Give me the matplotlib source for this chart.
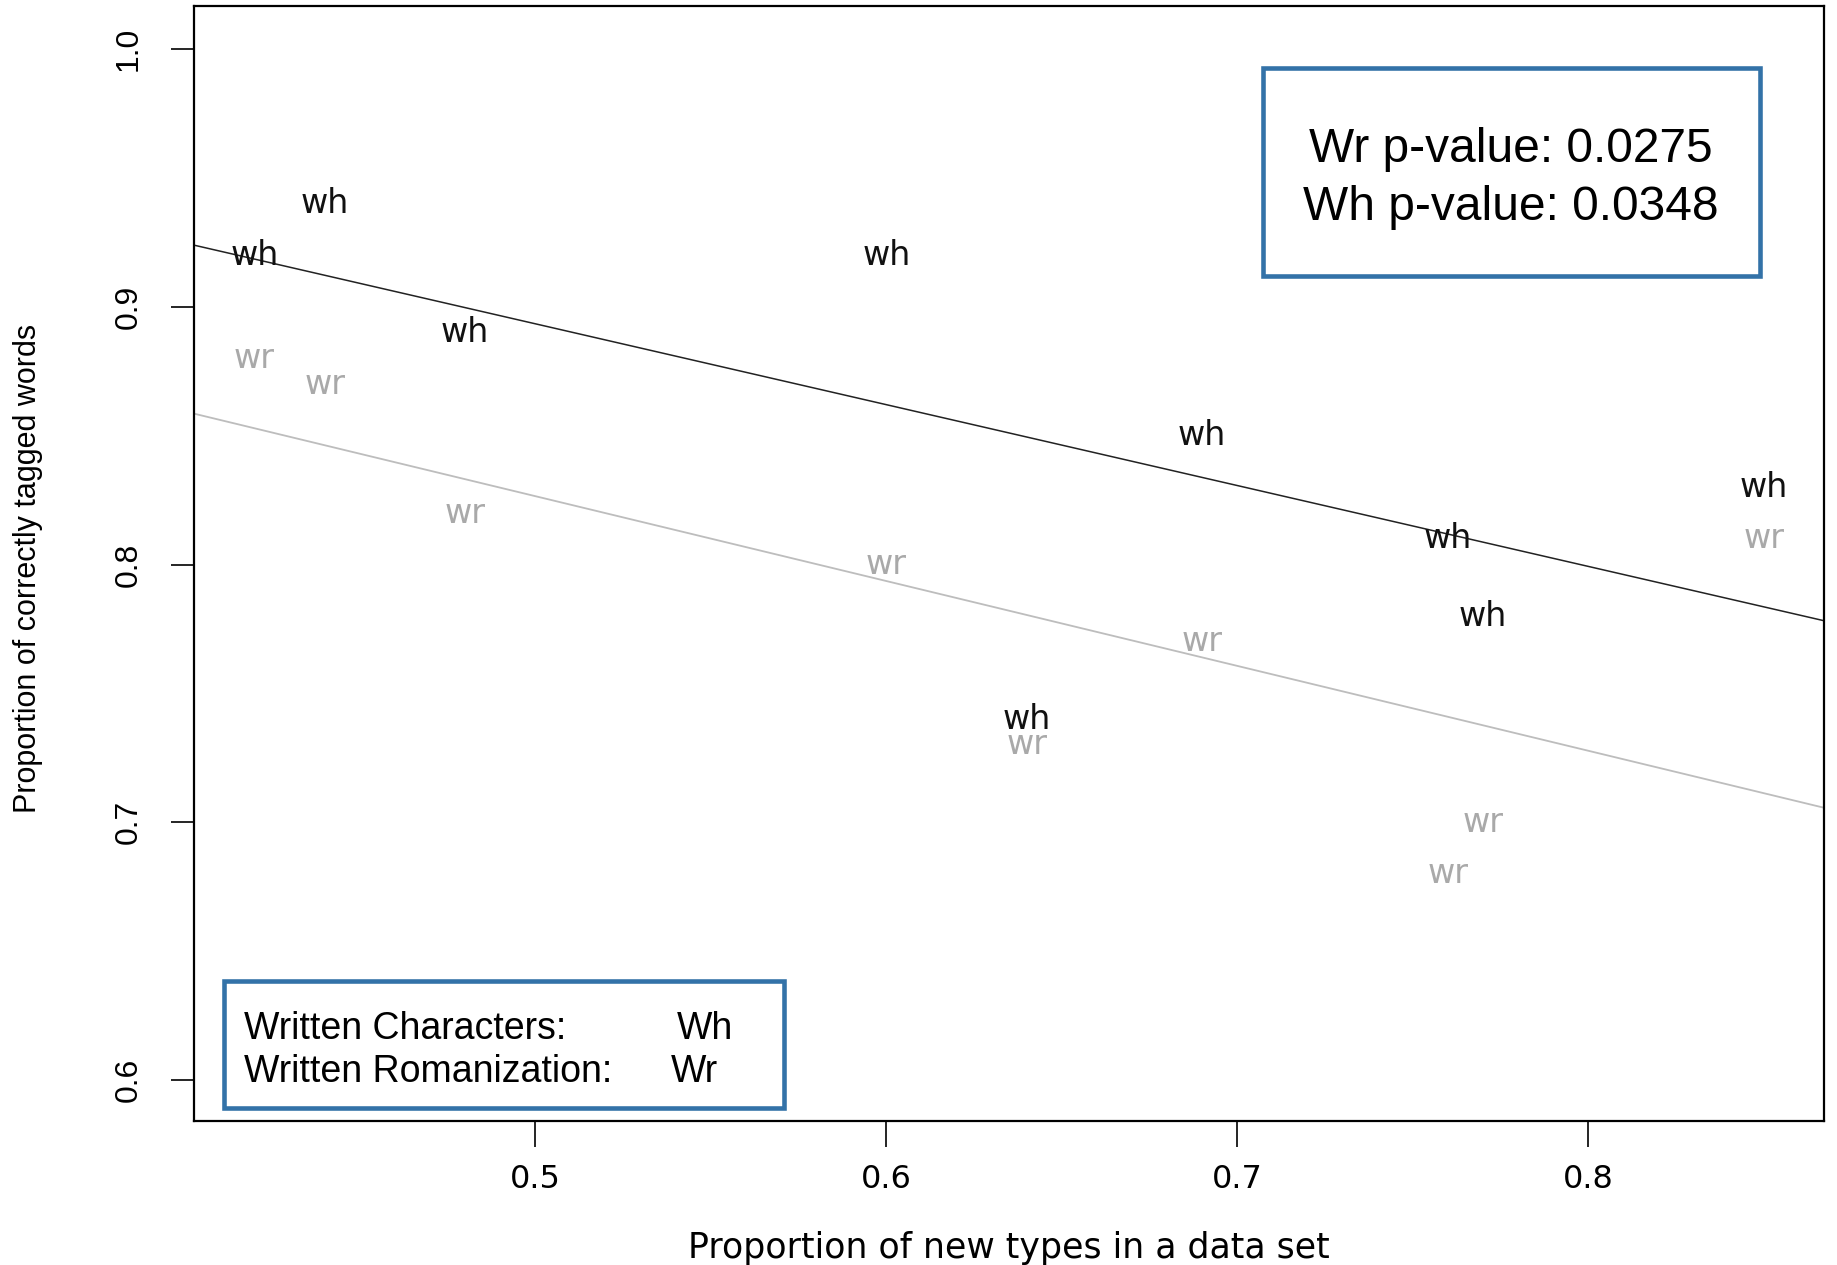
import numpy as np
import matplotlib.pyplot as plt
from matplotlib.patches import Rectangle

plt.rcParams['font.family'] = ['Liberation Sans', 'DejaVu Sans']

# data
x_new_types = [0.42, 0.44, 0.48, 0.60, 0.64, 0.69, 0.76, 0.77, 0.85]
wh_correct = [0.92, 0.94, 0.89, 0.92, 0.74, 0.85, 0.81, 0.78, 0.83]
wr_correct = [0.88, 0.87, 0.82, 0.80, 0.73, 0.77, 0.68, 0.70, 0.81]
x_ticks = [0.5, 0.6, 0.7, 0.8]
y_ticks = [0.6, 0.7, 0.8, 0.9, 1.0]
pvalue_lines = ['Wr p-value: 0.0275', 'Wh p-value: 0.0348']
legend_names = ['Written Characters:', 'Written Romanization:']
legend_codes = ['Wh', 'Wr']

W, H = 1837, 1265
fig = plt.figure(figsize=(W / 100, H / 100), dpi=100)
ax = fig.add_axes([194 / W, 1 - 1121 / H, (1824 - 194) / W, (1121 - 6) / H])

# the R plot looks stretched sideways, a wider face fits it better
wide = 'DejaVu Sans'
wh_col = '#111111'
wr_col = '#a9a9a9'

for x, y in zip(x_new_types, wh_correct):
    ax.text(x, y, 'wh', color=wh_col, fontsize=24, family=wide,
            ha='center', va='center')
for x, y in zip(x_new_types, wr_correct):
    ax.text(x, y, 'wr', color=wr_col, fontsize=24, family=wide,
            ha='center', va='center')

# least squares lines
xs = np.array([0.4, 0.87])
b_wh = np.polyfit(x_new_types, wh_correct, 1)
b_wr = np.polyfit(x_new_types, wr_correct, 1)
ax.plot(xs, np.polyval(b_wh, xs), color='#222222', lw=1.1)
ax.plot(xs, np.polyval(b_wr, xs), color='#bdbdbd', lw=1.3)

ax.set_xlim(0.4028, 0.8671)
ax.set_ylim(0.584, 1.0168)
ax.set_xticks(x_ticks)
ax.set_xticklabels([str(t) for t in x_ticks], family=wide)
ax.set_yticks(y_ticks)
ax.set_yticklabels([str(t) for t in y_ticks], rotation=90, va='center')

for s in ax.spines.values():
    s.set_linewidth(1.6)
ax.tick_params(axis='x', length=19, width=1.2, pad=12, labelsize=23)
ax.tick_params(axis='y', length=16.5, width=1.2, pad=20, labelsize=23)

ax.set_xlabel('Proportion of new types in a data set', fontsize=25,
              family=wide, va='center')
ax.xaxis.set_label_coords(0.5, -0.114)
ax.set_ylabel('Proportion of correctly tagged words', fontsize=22, va='center')
ax.yaxis.set_label_coords(-0.102, 0.496)
ax.set_title('Written words', fontsize=26, fontweight='bold', pad=3)

# boxes drawn on top of the figure
box_col = '#3372a8'
fig.add_artist(Rectangle((1263 / W, 1 - 276 / H), (1760 - 1263) / W, (276 - 68) / H,
                         transform=fig.transFigure, fill=True, facecolor='white',
                         edgecolor=box_col, lw=3.3))
for i, line in enumerate(pvalue_lines):
    fig.text(1511 / W, 1 - (150 + 58 * i) / H, line, fontsize=34.5,
             ha='center', va='center')

fig.add_artist(Rectangle((224 / W, 1 - 1108 / H), (784 - 224) / W, (1108 - 981) / H,
                         transform=fig.transFigure, fill=True, facecolor='white',
                         edgecolor=box_col, lw=3.3))
for i, (name, code) in enumerate(zip(legend_names, legend_codes)):
    yy = 1 - (1029 + 43 * i) / H
    fig.text(244 / W, yy, name, fontsize=27, ha='left', va='center')
    fig.text((677 - 6 * i) / W, yy, code, fontsize=27, ha='left', va='center')

fig.savefig('out.png', dpi=100)
